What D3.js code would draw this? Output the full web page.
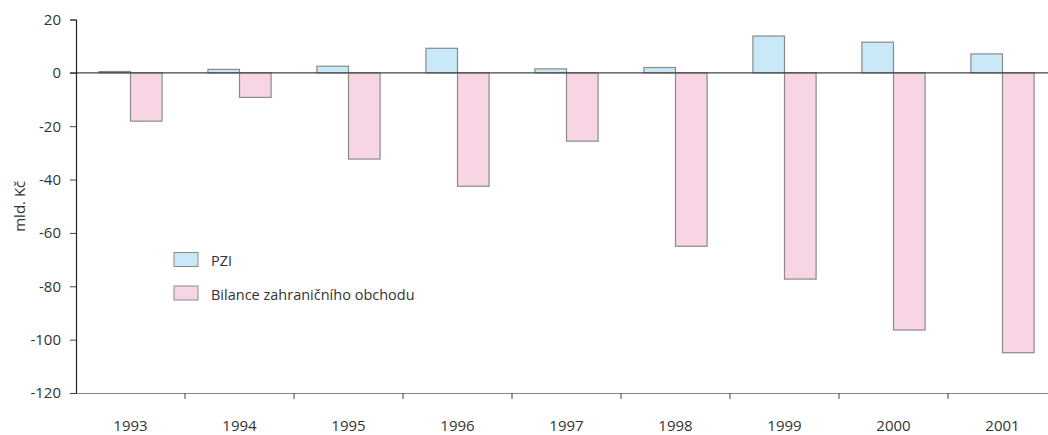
<!DOCTYPE html>
<html lang="cs">
<head>
    <meta charset="UTF-8">
    <title>PZI a bilance zahraničního obchodu</title>
    <script src="https://d3js.org/d3.v7.min.js"></script>
    <style>
        html, body {
            margin: 0;
            background: #fff;
        }

        text {
            font-family: "Open Sans", sans-serif;
            fill: #333;
        }
    </style>
</head>
<body>
<div class="chart"></div>

<script>
    var years = ["1993", "1994", "1995", "1996", "1997", "1998", "1999", "2000", "2001"];
    var pzi = [0.5, 1.3, 2.5, 9.2, 1.5, 2.0, 13.8, 11.5, 7.1];
    var bilance = [-18.1, -9.2, -32.3, -42.5, -25.6, -65.0, -77.3, -96.4, -104.9];
    var yTicks = [20, 0, -20, -40, -60, -80, -100, -120];
    var seriesNames = ["PZI", "Bilance zahraničního obchodu"];
    var seriesColors = ["#c9e8f8", "#f8d5e5"];

    var width = 1048, height = 435;
    var margin = {left: 76, top: 19.5, bottom: 42};
    var bandW = 109;

    var svg = d3.select('.chart').append('svg')
        .attr('width', width).attr('height', height);

    var x = d3.scaleBand()
        .domain(years)
        .range([margin.left, margin.left + bandW * years.length]);

    var y = d3.scaleLinear()
        .domain([-120, 20])
        .range([height - margin.bottom, margin.top]);

    var barW = 31.6;

    // bars
    var groups = svg.append('g').selectAll('g')
        .data(years)
        .enter().append('g');

    groups.append('rect')
        .attr('x', function (d) { return x(d) + x.bandwidth() / 2 - barW; })
        .attr('y', function (d, i) { return y(Math.max(0, pzi[i])); })
        .attr('width', barW)
        .attr('height', function (d, i) { return Math.abs(y(pzi[i]) - y(0)); })
        .attr('fill', seriesColors[0])
        .attr('stroke', '#8a8a8a')
        .attr('stroke-width', 1.2);

    groups.append('rect')
        .attr('x', function (d) { return x(d) + x.bandwidth() / 2; })
        .attr('y', function (d, i) { return y(Math.max(0, bilance[i])); })
        .attr('width', barW)
        .attr('height', function (d, i) { return Math.abs(y(bilance[i]) - y(0)); })
        .attr('fill', seriesColors[1])
        .attr('stroke', '#8a8a8a')
        .attr('stroke-width', 1.2);

    // zero line
    svg.append('line')
        .attr('x1', margin.left - 6).attr('x2', width)
        .attr('y1', y(0)).attr('y2', y(0))
        .attr('stroke', '#444').attr('stroke-width', 1.2);

    // y axis (plain hyphen for negatives, like the original)
    var yAxis = d3.axisLeft(y).tickValues(yTicks).tickSize(6).tickPadding(9)
        .tickFormat(function (d) { return String(d); });
    var gy = svg.append('g')
        .attr('transform', 'translate(' + margin.left + ',0)')
        .call(yAxis);
    gy.select('.domain').attr('stroke', '#222').attr('stroke-width', 1.2);
    gy.selectAll('.tick line').attr('stroke', '#444');
    gy.selectAll('text').style('font-size', '15px').attr('fill', '#333');

    // x axis
    var xAxis = d3.axisBottom(x).tickSize(0).tickPadding(27.5);
    var gx = svg.append('g')
        .attr('transform', 'translate(0,' + y(-120) + ')')
        .call(xAxis);
    gx.select('.domain').attr('stroke', '#888').attr('stroke-width', 1.2);
    gx.selectAll('text').style('font-size', '15px').attr('fill', '#333');

    // boundary ticks between categories
    gx.selectAll('.sep')
        .data(years)
        .enter().append('line')
        .attr('x1', function (d) { return x(d) + x.bandwidth(); })
        .attr('x2', function (d) { return x(d) + x.bandwidth(); })
        .attr('y1', 0).attr('y2', 6)
        .attr('stroke', '#444');

    // y label
    svg.append('text')
        .attr('transform', 'translate(25,' + y(-50) + ') rotate(-90)')
        .attr('text-anchor', 'middle')
        .style('font-size', '15px')
        .text('mld. Kč');

    // legend
    var legend = svg.append('g').selectAll('g')
        .data(seriesNames)
        .enter().append('g')
        .attr('transform', function (d, i) { return 'translate(174,' + (252.5 + i * 33.5) + ')'; });

    legend.append('rect')
        .attr('width', 24).attr('height', 14)
        .attr('fill', function (d, i) { return seriesColors[i]; })
        .attr('stroke', '#8a8a8a');

    legend.append('text')
        .attr('x', 37).attr('y', 13.5)
        .style('font-size', '14.5px')
        .text(function (d) { return d; });
</script>
</body>
</html>
